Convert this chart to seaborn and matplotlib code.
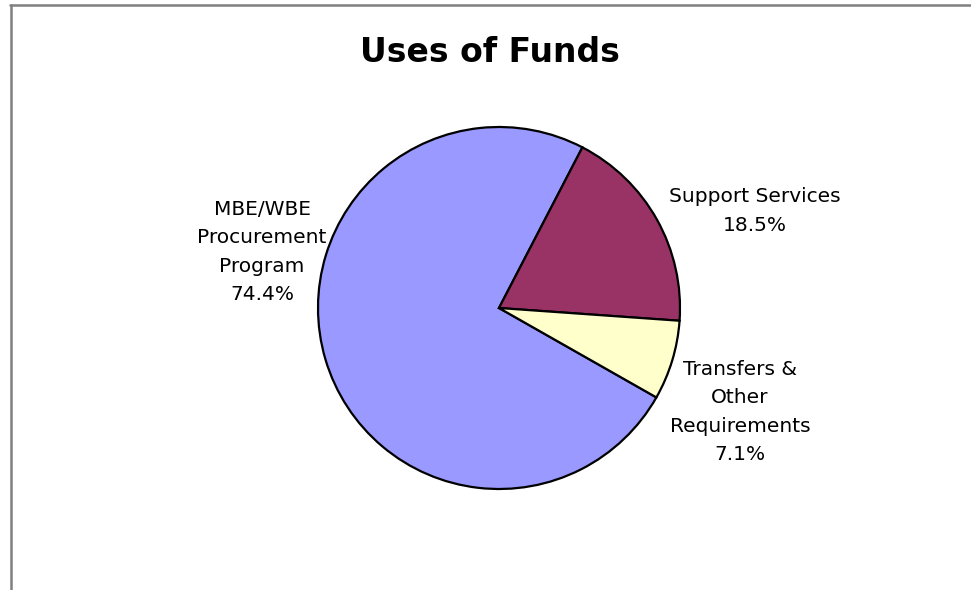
import matplotlib
matplotlib.use("Agg")
import matplotlib.pyplot as plt
from matplotlib.lines import Line2D
import seaborn as sns

# data
categories = ["MBE/WBE\nProcurement\nProgram", "Support Services", "Transfers &\nOther\nRequirements"]
shares = [74.4, 18.5, 7.1]
slice_colors = ["#9999FF", "#993366", "#FFFFCC"]

sns.set_theme(style="white")
plt.rcParams["font.family"] = ["DejaVu Sans"]

W, H = 971, 590
fig = plt.figure(figsize=(W / 100, H / 100), dpi=100)
ax = fig.add_axes([0, 0, 1, 1])

# pie centre / radius in pixels
cx, cy, r = 499, 308, 181

ax.pie(shares, colors=slice_colors, startangle=330.4, counterclock=False,
       wedgeprops={"edgecolor": "black", "linewidth": 1.6})
ax.set_xlim(-cx / r, (W - cx) / r)
ax.set_ylim(-(H - cy) / r, cy / r)
ax.axis("off")

def px(x, y):
    return (x - cx) / r, (cy - y) / r

label_pos = [(262, 252), (755, 211), (740, 412)]
for name, val, (lx, ly) in zip(categories, shares, label_pos):
    ax.text(*px(lx, ly), f"{name}\n{val:.1f}%", ha="center", va="center",
            fontsize=14.5, linespacing=1.63, color="black")

fig.text(490 / W, 1 - 52 / H, "Uses of Funds", ha="center", va="center",
         fontsize=23.8, fontweight="bold", color="black")

# chart-area border (left and top only, as in the source)
fig.add_artist(Line2D([10.8 / W, 10.8 / W], [0, 1 - 4.8 / H], color="#808080", lw=1.8,
                      transform=fig.transFigure))
fig.add_artist(Line2D([10 / W, 971 / W], [1 - 4.8 / H, 1 - 4.8 / H], color="#808080", lw=1.8,
                      transform=fig.transFigure))

fig.savefig("out.png", dpi=100, facecolor="white")
